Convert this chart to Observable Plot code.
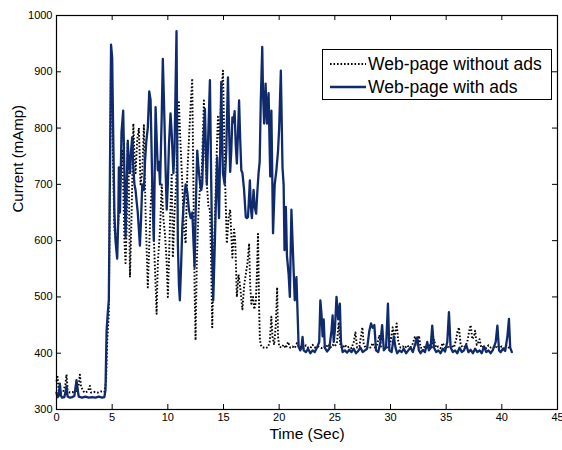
<!DOCTYPE html>
<html>
<head>
<meta charset="utf-8">
<script src="https://cdn.jsdelivr.net/npm/d3@7"></script>
<script src="https://cdn.jsdelivr.net/npm/@observablehq/plot@0.6"></script>
<style>
  html, body { margin: 0; padding: 0; background: white; }
  #chart { position: relative; width: 562px; height: 450px; }
</style>
</head>
<body>
<div id="chart"></div>
<script>
// ---- Data ----
const xTicks = [0, 5, 10, 15, 20, 25, 30, 35, 40, 45];
const yTicks = [300, 400, 500, 600, 700, 800, 900, 1000];
const seriesNames = ["Web-page without ads", "Web-page with ads"];

// Web-page with ads (solid blue)
const tWith = [0.0,0.1,0.2,0.3,0.4,0.5,0.7,0.8,0.9,1.0,1.2,1.4,1.6,1.7,1.8,1.9,2.0,2.3,2.6,2.9,3.2,3.5,3.8,4.1,4.3,4.4,4.5,4.6,4.7,4.8,4.9,5.0,5.1,5.2,5.3,5.45,5.55,5.6,5.7,5.84,5.99,6.1,6.2,6.3,6.4,6.5,6.6,6.7,6.8,6.9,7.0,7.1,7.19,7.3,7.4,7.49,7.6,7.7,7.85,7.95,8.06,8.2,8.33,8.45,8.6,8.74,8.9,9.0,9.1,9.2,9.3,9.45,9.55,9.65,9.8,9.9,10.0,10.1,10.24,10.35,10.5,10.6,10.78,10.9,11.0,11.08,11.2,11.3,11.4,11.5,11.6,11.75,11.9,12.05,12.2,12.3,12.4,12.5,12.64,12.75,12.9,13.0,13.09,13.2,13.33,13.42,13.5,13.65,13.78,13.9,14.0,14.08,14.2,14.3,14.43,14.5,14.6,14.7,14.8,14.9,14.95,15.1,15.25,15.4,15.5,15.6,15.7,15.8,15.9,16.0,16.1,16.2,16.3,16.4,16.5,16.6,16.7,16.85,17.0,17.1,17.2,17.3,17.37,17.45,17.55,17.7,17.8,17.93,18.05,18.15,18.25,18.35,18.48,18.55,18.65,18.78,18.9,19.05,19.15,19.2,19.3,19.45,19.6,19.75,19.9,20.0,20.15,20.3,20.4,20.48,20.6,20.7,20.85,20.96,21.1,21.2,21.4,21.55,21.75,21.9,22.0,22.1,22.2,22.4,22.6,22.8,23.0,23.2,23.4,23.6,23.7,23.8,23.9,24.0,24.1,24.3,24.5,24.7,24.8,24.9,25.0,25.15,25.3,25.45,25.55,25.7,25.9,26.1,26.3,26.5,26.7,26.9,27.1,27.3,27.5,27.7,27.9,28.1,28.25,28.4,28.55,28.7,28.9,29.1,29.25,29.4,29.6,29.77,29.9,30.1,30.3,30.45,30.6,30.8,31.0,31.2,31.4,31.6,31.8,32.0,32.2,32.4,32.55,32.7,32.9,33.1,33.3,33.45,33.6,33.75,33.9,34.1,34.3,34.5,34.7,34.9,35.1,35.25,35.4,35.6,35.8,36.0,36.2,36.4,36.6,36.8,37.0,37.2,37.4,37.6,37.8,38.0,38.2,38.4,38.6,38.8,39.0,39.2,39.45,39.6,39.75,39.9,40.1,40.3,40.5,40.64,40.75,40.9];
const vWith = [330,322,324,346,325,321,322,330,342,323,321,322,324,338,352,335,323,321,323,321,322,321,323,321,322,335,440,470,495,720,948,925,780,650,600,568,640,730,650,793,831,720,606,690,775,740,720,760,784,730,700,690,671,650,620,591,640,700,690,740,775,800,865,850,702,600,837,780,725,740,700,820,923,850,725,655,700,770,826,790,720,760,972,595,520,494,560,624,660,680,700,686,654,640,650,600,553,650,760,730,700,690,701,780,834,760,700,800,885,700,560,494,580,655,748,700,640,760,882,760,720,700,760,890,800,722,760,819,810,830,770,737,790,849,780,725,720,690,642,640,642,680,707,660,640,690,660,648,690,720,740,850,944,860,808,879,808,862,760,714,831,613,700,725,760,800,902,730,700,583,660,573,540,500,655,600,494,535,411,405,410,429,405,402,408,400,405,402,410,420,494,470,430,460,410,403,408,440,467,420,440,500,460,488,420,402,405,401,406,402,408,400,404,410,402,405,408,440,453,445,450,405,402,420,450,405,410,488,405,402,430,410,400,405,402,408,400,405,410,402,415,428,405,400,406,402,420,405,410,449,410,402,405,400,408,403,420,473,410,402,405,400,410,402,405,415,402,406,400,408,402,405,400,412,402,405,400,406,420,449,405,402,408,404,430,461,410,402];

// Web-page without ads (black dotted)
const tWithout = [0.0,0.1,0.2,0.4,0.6,0.8,0.9,1.0,1.2,1.5,1.8,2.0,2.1,2.2,2.5,2.8,3.0,3.1,3.4,3.7,4.0,4.3,4.45,4.55,4.7,4.8,4.9,5.0,5.1,5.2,5.35,5.5,5.6,5.75,5.9,6.0,6.1,6.2,6.3,6.4,6.5,6.6,6.75,6.9,7.0,7.1,7.25,7.4,7.55,7.7,7.85,8.0,8.2,8.35,8.45,8.6,8.75,8.9,8.99,9.1,9.3,9.45,9.6,9.75,9.9,10.0,10.1,10.2,10.35,10.45,10.6,10.75,10.9,10.99,11.1,11.3,11.45,11.6,11.75,11.9,12.05,12.19,12.3,12.4,12.49,12.6,12.75,12.9,13.05,13.24,13.35,13.5,13.65,13.78,13.9,13.99,14.1,14.25,14.4,14.5,14.65,14.8,14.95,15.05,15.15,15.3,15.45,15.6,15.8,15.95,16.05,16.2,16.35,16.5,16.7,16.85,17.0,17.15,17.3,17.4,17.5,17.65,17.76,17.9,18.0,18.1,18.2,18.27,18.4,18.6,18.8,19.0,19.15,19.3,19.4,19.55,19.7,19.82,19.9,20.0,20.2,20.4,20.6,20.8,21.0,21.2,21.4,21.6,21.8,22.0,22.2,22.4,22.6,22.8,23.0,23.2,23.5,23.8,24.0,24.2,24.4,24.6,24.8,25.0,25.2,25.35,25.5,25.7,25.9,26.1,26.3,26.5,26.7,26.85,27.0,27.2,27.35,27.47,27.6,27.8,28.0,28.2,28.4,28.6,28.8,29.0,29.15,29.4,29.6,29.8,30.0,30.2,30.35,30.55,30.7,30.9,31.1,31.3,31.5,31.7,31.9,32.05,32.2,32.4,32.56,32.7,32.9,33.1,33.3,33.5,33.7,33.9,34.1,34.3,34.5,34.7,34.9,35.1,35.3,35.5,35.7,35.9,36.0,36.15,36.3,36.5,36.7,36.9,37.05,37.2,37.35,37.5,37.6,37.75,37.9,38.0,38.15,38.4,38.6,38.8,39.0,39.2,39.4,39.6,39.8,40.0,40.2,40.4,40.6,40.8];
const vWithout = [350,358,332,330,331,345,362,335,330,331,333,345,362,340,330,332,342,330,331,330,332,331,350,420,470,700,938,850,720,620,600,615,650,700,760,690,600,560,620,780,700,535,650,808,750,720,780,800,700,720,805,650,517,600,660,707,600,520,470,560,620,700,640,610,560,500,560,640,720,570,650,700,800,849,790,700,620,595,720,780,840,888,700,520,423,560,650,700,720,849,760,700,660,655,550,446,560,650,760,820,780,860,902,800,700,595,640,655,570,620,600,500,540,517,478,520,540,560,595,520,488,500,478,490,540,612,480,423,412,410,409,411,420,465,430,415,450,517,430,412,410,415,409,420,410,412,409,418,410,412,409,414,410,409,415,410,412,409,412,410,416,410,415,412,420,455,412,409,415,410,412,409,420,437,410,412,430,446,415,409,412,410,418,410,415,432,412,409,415,410,420,446,425,453,420,410,412,409,414,410,412,420,430,415,431,410,409,412,410,414,410,424,410,412,409,418,410,412,409,414,410,425,437,446,415,410,412,420,438,450,425,430,440,415,420,425,410,412,409,414,410,412,409,414,410,412,409,414,410,412];

const withData = tWith.map((t, i) => ({t, v: vWith[i]}));
const withoutData = tWithout.map((t, i) => ({t, v: vWithout[i]}));

const W = 562, H = 450;
const mL = 56, mR = 5, mT = 15, mB = 41;
const plotW = W - mL - mR, plotH = H - mT - mB;
const tick = 5;
const blue = "#0f2b6e";
const fontFam = "'Liberation Sans', Arial, Helvetica, sans-serif";

const svg = Plot.plot({
  width: W, height: H,
  marginLeft: mL, marginRight: mR, marginTop: mT, marginBottom: mB,
  style: { fontFamily: fontFam, fontSize: "11px", background: "white", color: "black" },
  x: { domain: [0, 45] },
  y: { domain: [300, 1000] },
  marks: [
    Plot.line(withoutData, { x: "t", y: "v", stroke: "black", strokeWidth: 1.9, strokeDasharray: "1.6,1.9", strokeLinecap: "butt" }),
    Plot.line(withData, { x: "t", y: "v", stroke: blue, strokeWidth: 2.3, strokeLinejoin: "round" }),
    Plot.frame({ stroke: "black", strokeWidth: 1.2 }),
    // inward ticks on all four sides
    Plot.tickX(xTicks, { x: d => d, insetTop: plotH - tick, stroke: "black", strokeWidth: 1 }),
    Plot.tickX(xTicks, { x: d => d, insetBottom: plotH - tick, stroke: "black", strokeWidth: 1 }),
    Plot.tickY(yTicks, { y: d => d, insetRight: plotW - tick, stroke: "black", strokeWidth: 1 }),
    Plot.tickY(yTicks, { y: d => d, insetLeft: plotW - tick, stroke: "black", strokeWidth: 1 }),
    Plot.axisX(xTicks, { tickSize: 0, tickPadding: 4, label: null, fontSize: 11, tickFormat: d => String(d) }),
    Plot.axisY(yTicks, { tickSize: 0, tickPadding: 4, label: null, fontSize: 11, tickFormat: d => String(d) }),
    Plot.text(["Time (Sec)"], { frameAnchor: "bottom", dy: 29, fontSize: 15.5 }),
    Plot.text(["Current (mAmp)"], { frameAnchor: "left", dx: -38, rotate: -90, fontSize: 15 })
  ]
});

// Legend box (MATLAB style) inside the plot area
const g = d3.select(svg).append("g").attr("font-family", fontFam).attr("text-anchor", "start");
g.append("rect").attr("x", 322.5).attr("y", 49.5).attr("width", 229).attr("height", 50)
  .attr("fill", "white").attr("stroke", "black").attr("stroke-width", 1);
const items = [
  { name: seriesNames[0], y: 64, stroke: "black", dash: "1.6,1.9", w: 1.9 },
  { name: seriesNames[1], y: 87, stroke: blue, dash: null, w: 2.3 }
];
items.forEach(it => {
  g.append("line").attr("x1", 330).attr("x2", 366).attr("y1", it.y).attr("y2", it.y)
    .attr("stroke", it.stroke).attr("stroke-width", it.w).attr("stroke-dasharray", it.dash);
  g.append("text").attr("x", 368).attr("y", it.y).attr("dy", "0.36em")
    .attr("text-anchor", "start").attr("font-size", 17.5).attr("fill", "black").text(it.name);
});

document.getElementById("chart").appendChild(svg);
</script>
</body>
</html>
